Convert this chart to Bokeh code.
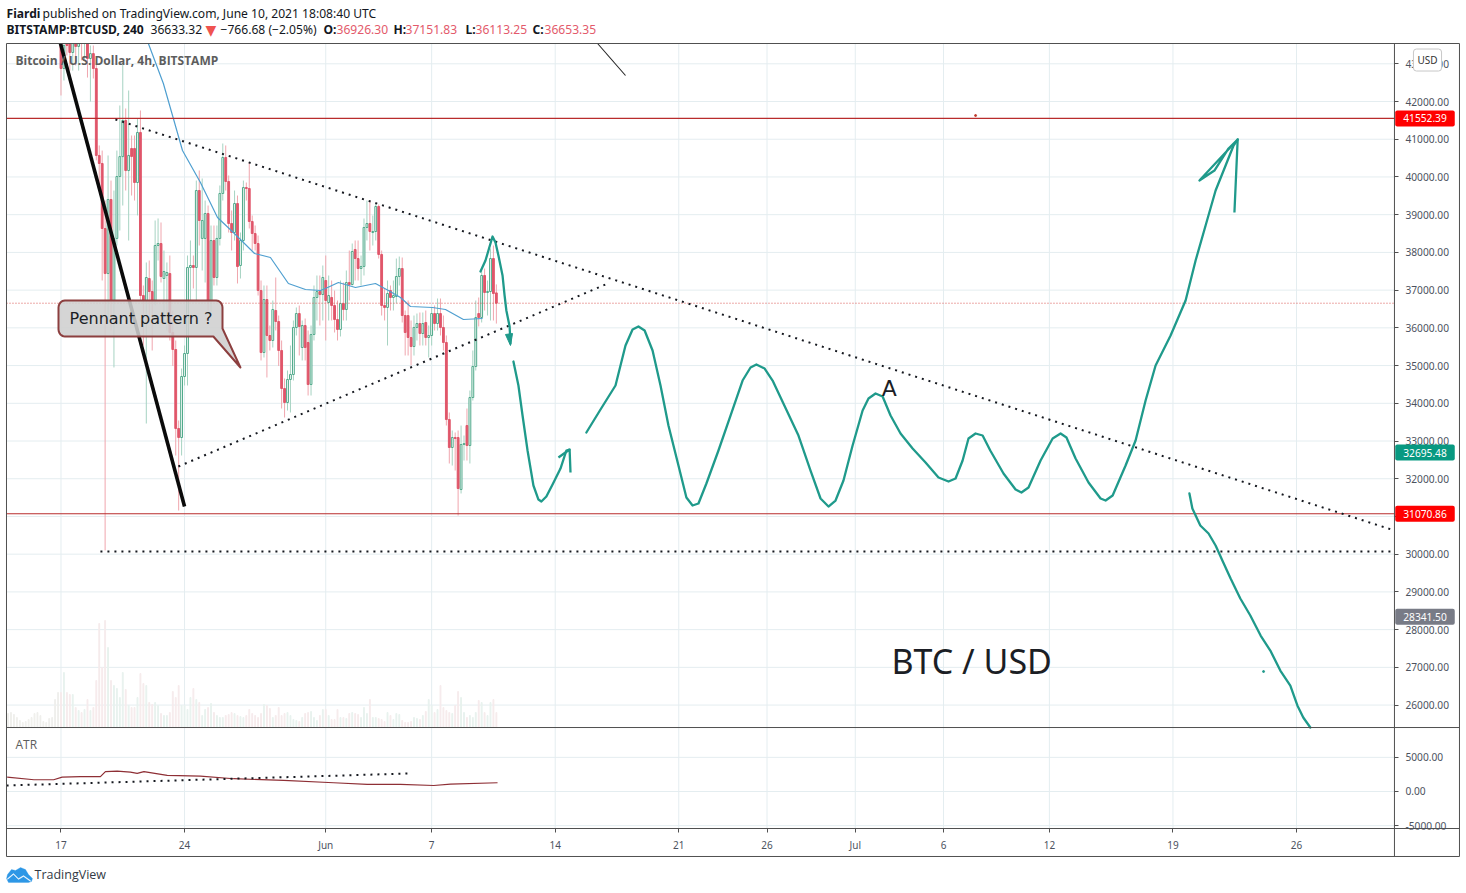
from bokeh.plotting import figure
from bokeh.models import Range1d, FixedTicker, Label, BoxAnnotation, PolyAnnotation, NumeralTickFormatter, LinearAxis
from bokeh.core.properties import value
from bokeh.embed import file_html
from bokeh.resources import INLINE
import numpy as np

bar_open = [43618,42875,43670,43540,43300,43670,43460,43720,43565,43618,43140,43270,42875,40570,40357,38634,37440,39403,36725,38370,40012,40540,41497,40170,40755,40755,39853,41180,36857,36725,37308,36963,36725,38183,38236,37308,37388,37440,35877,35426,33332,33093,34710,35320,37600,37653,37600,39641,38370,38370,39032,36725,38315,37335,38370,39562,40516,39880,38766,38527,39296,37653,38315,39720,39694,38820,38501,38236,36990,35346,36751,35797,35665,36460,36168,35400,34392,34021,34631,34763,36010,36380,35479,36062,35612,34498,35824,36805,36963,36884,37255,36672,36805,36592,36221,35957,36645,36486,37202,37149,38077,37838,37573,37627,38660,38766,38527,38554,39217,37945,36592,36540,36990,36805,36831,37361,37573,36327,36327,35744,35505,36010,36115,35850,36142,35744,35797,36380,36115,36380,36010,35612,33570,32828,33093,33093,31714,32907,33411,32881,34153,34975,36380,36274,37388,36937,36963,37838,36926.30]
bar_high = [43750,43620,43880,43750,43750,43880,43880,43880,43880,43880,43485,43485,43090,40835,40700,39375,40570,39905,39640,40700,41895,43010,41815,42292,41100,41100,41550,41762,37123,37733,37785,37255,38846,38900,38793,38050,37733,37918,36460,35665,33544,34922,35532,37918,38316,37918,39905,40172,39960,39375,39243,38713,38713,38713,39774,40887,40835,40040,39111,39640,39508,38528,39905,39853,40383,38978,38713,38448,37255,37123,37123,36062,36725,37335,36327,35665,34657,34869,35532,36195,36540,36592,36195,36248,35930,36062,37123,37388,37388,37653,37918,37388,37255,36990,36725,37255,37202,37520,38050,38236,38316,38316,37918,38899,39376,39376,38978,39296,39270,38050,37043,37255,37123,37255,37838,37891,37865,36460,36725,36195,36327,36380,36407,36407,36460,36062,36540,36592,36778,36778,36327,35797,33756,33279,33226,33279,33411,33146,33862,34339,35400,36725,36805,37520,37573,37255,38104,38183,37151.83]
bar_low = [42160,42557,43220,42820,42820,42955,42820,43090,43090,42635,42000,42610,40440,39640,37255,30100,36195,35930,34950,38183,38580,39243,39640,38315,39508,39375,38980,36725,35532,33464,36195,35400,36593,37785,37202,36195,35930,35665,34990,32616,31158,32616,34472,34472,36725,37043,36725,38183,37520,37202,36460,36407,37123,37123,38183,39375,39640,38527,38050,38315,37176,37308,38050,39375,38634,38050,38050,36857,35135,35214,34684,35400,35479,35930,34990,33862,33623,33809,33756,34604,35797,35267,35135,35135,34206,34206,35665,36195,36062,36195,35665,36195,36195,35877,35665,35771,36195,36195,36725,37123,37255,37255,37123,37388,38316,38050,38183,38316,37838,36327,36195,35532,36460,36460,36645,37123,36142,35267,35267,35002,35267,35665,35532,35532,35532,35214,35532,35930,35930,35797,35400,33411,32404,32350,32218,31025,31609,32483,32483,32404,34073,34869,36036,36142,36460,36327,36195,36195,36113.25]
bar_close = [42875,43485,43485,43300,43540,43460,43670,43565,43720,43140,43270,42875,40570,40357,38634,37440,39403,36725,38370,40012,40540,41497,40170,40570,40543,39853,41180,36857,36725,37335,36963,36725,38183,38236,37361,37494,37467,35877,35426,33332,33093,34710,35320,37600,37653,37600,39641,38846,38846,39032,36725,38315,37335,38370,39562,40516,39880,38766,38527,39296,37626,38315,39720,39694,38820,38501,38236,36990,35346,36751,35797,35665,36486,36168,35400,34392,34021,34631,34763,36010,36380,36036,36062,35479,34498,35824,36805,36963,36884,37335,36725,36857,36592,36221,35957,36645,36486,37202,37149,38024,37838,37573,37627,38660,38766,38554,38554,39217,37945,36592,36540,36911,36805,36858,37361,37573,36327,35877,35744,35505,36010,36115,35850,36115,35744,35797,36380,36115,36380,36010,35612,33570,32828,33093,33066,31741,32907,32933,32881,34153,34975,36274,36274,37388,36937,36963,37838,36910,36653.35]
volume = [560,600,520,400,280,200,240,320,400,560,600,480,240,200,360,400,1120,1400,1400,2200,1400,1320,1320,800,680,600,720,1120,680,800,1880,4160,2400,4280,3200,1880,1680,1560,1200,2200,1520,880,800,800,1200,2160,1760,1680,1000,920,1000,880,560,480,480,600,1440,1200,1680,880,880,720,1200,1560,1120,1000,480,720,800,960,600,480,400,400,480,520,600,560,480,440,400,480,720,560,480,400,560,920,880,760,400,480,800,480,560,600,480,320,280,240,400,560,600,640,400,280,480,720,720,480,320,320,720,400,400,360,560,600,560,520,400,800,560,1120,400,400,360,320,240,600,480,320,560,520,280,200,200,240,400,360,320,480,640,1120,880,600,720,1680,800,680,600,560,880,1440,1200,600,400,480,400,600,1080,1000,600,480,1000,1120,600]
atr_bars = [-18.3,-9.2,-2.5,0.4,6.6,13.4,15.1,19.1,23.6,25.9,28.2,36.1,47.4,58.7,75.7,92.7,104.1,115.4,126.7,132.4,148.4]
atr_values = [2100,1720,1720,2100,2180,2180,2900,2990,2840,2650,2900,2350,2250,1870,1620,1280,1030,1030,880,1070,1280]
ma_bars = [29.7,34.8,38.2,41.3,47.4,53.2,58.6,65.8,71.2,77.3,83.1,88.2,89.9,94.3,100.1,106.9,111.3,115.4,118.8,126.3,130.7,136.8,143.3]
ma_values = [43538,42478,41550,40702,39853,38925,38528,37971,37865,37175,37017,36990,37043,37202,37070,37176,36990,36805,36566,36540,36486,36221,36248]
time_ticks = [0,42,90,126,168,210,240,270,300,336,378,420]
time_labels = ["17","24","Jun","7","14","21","26","Jul","6","12","19","26"]
price_ticks = [26000,27000,28000,29000,30000,31000,32000,33000,34000,35000,36000,37000,38000,39000,40000,41000,42000,43000]
atr_ticks = [-5000,0,5000]
upper_line = ([18.5,453.3],[41523,30628])
lower_line = ([39.9,185.1],[32324,37149])
floor_line = ([13.4,453.3],[30071,30071])
black_thick = ([-0.17,42],[43538,31264])
black_thin = ([182.4,191.9],[43538,42690])
atr_line = ([-18.5,119.4],[880,2650])
sketch_a = ([142.6,144.3,145.3,146.7,147.7,148.7,150.1,150.8,151.4,152.5,152.8],[37494,37785,38050,38422,38262,37918,37388,36857,36460,36036,35585])
sketch_a_head = ([151.1,152.8,153.5],[35824,35532,35850])
sketch_b = ([153.8,155.5,156.9,158.6,160.6,162.3,163.3,165.0,167.1,169.8,171.8,172.9],[35108,34472,33676,32749,31821,31449,31396,31529,31847,32271,32749,32775])
sketch_b_head = ([169.1,172.9,173.2],[32563,32775,32165])
sketch_c = ([178.6,183.4,188.5,191.9,194.3,196.3,198.4,201.1,203.8,206.5,209.9,212.6,214.7,216.7,219.4,223.5,227.6,231.7,234.4,236.4,239.2,241.9,245.9,250.7,254.8,258.2,260.9,263.3,266.0,269.1,272.5,274.5,276.9,279.3,282.0,285.4,289.5,293.9,298.3,301.7,304.1,306.5,308.5,310.9,313.3,315.9,320.4,324.5,326.5,328.9,333.0,337.1,339.8,341.8,344.9,349.3,353.4,355.1,357.5,361.9,365.3,368.7,372.1,377.2,382.3,385.7,389.1,392.5,395.9,398.6,400.0],
            [33226,33835,34472,35532,35956,36036,35930,35400,34472,33411,32350,31503,31290,31343,31874,32749,33676,34604,34949,35028,34922,34604,33941,33146,32218,31476,31264,31423,31953,32881,33809,34127,34260,34180,33676,33199,32802,32431,32033,31927,32006,32483,33067,33199,33146,32749,32139,31715,31635,31768,32483,33067,33199,33093,32536,31900,31476,31423,31555,32350,33014,34074,35002,35797,36725,37785,38713,39641,40304,40834,40993])
sketch_c_head = ([398.9,400.0,387.0,392.1,396.9,400.0],[39058,40993,39906,40171,40755,40993])
sketch_d = ([383.6,384.6,387.3,390.1,392.5,394.8,397.6,400.9,404.3,407.8,411.1,414.5,417.9,420.3,422.3,424.7],[31609,31211,30761,30548,30230,29833,29355,28825,28374,27844,27446,26916,26518,25989,25670,25405])
levels_red = [41552.39, 31070.86]
last_close = 36653.35
price_tags = [(41552.39,"41552.39","#ff0000"),(32695.48,"32695.48","#089981"),(31070.86,"31070.86","#ff0000"),(28341.50,"28341.50","#787b86")]

GRID = "#e4edf0"
FRAME = "#505050"
TEAL = "#1f9a8b"
RED = "#e0566a"
GREEN = "#4fa98a"
AXF = "Noto Sans"

W, H = 1460, 885
X_L, X_R, X_O = -18.53, 453.3, 475.4      # chart left, price-scale left, price-scale right (bars)
Y_TOP, Y_MID, Y_LOW, Y_BOT = 43538, 25405, 22728, 21986   # pane borders on the price scale

p = figure(width=W, height=H, x_range=Range1d(-20.566, 475.75), y_range=Range1d(21217, 44678),
           output_backend="svg", toolbar_location=None, tools="", x_axis_location=None, y_axis_location=None,
           min_border_left=0, min_border_right=0, min_border_top=0, min_border_bottom=0)
p.outline_line_color = None
p.grid.visible = False
p.extra_y_ranges = {"vol": Range1d(-6320, 29080), "atr": Range1d(-13762, 115802)}

# grid
p.segment(x0=time_ticks, x1=time_ticks, y0=Y_LOW, y1=Y_TOP, color=GRID, line_width=1)
p.segment(x0=X_L, x1=X_R, y0=price_ticks, y1=price_ticks, color=GRID, line_width=1)
p.segment(x0=X_L, x1=X_R, y0=atr_ticks, y1=atr_ticks, color=GRID, line_width=1, y_range_name="atr")

# axes
def style_axis(a, size):
    a.axis_line_color = None
    a.major_tick_in = 0
    a.major_tick_out = 4
    a.minor_tick_line_color = None
    a.major_tick_line_color = FRAME
    a.major_label_text_font = AXF
    a.major_label_text_font_size = size
    a.major_label_text_color = "#4c525e"

ya = LinearAxis(fixed_location=X_R, ticker=FixedTicker(ticks=price_ticks), formatter=NumeralTickFormatter(format="0.00"))
style_axis(ya, "10.2px"); ya.major_label_standoff = 7
p.add_layout(ya, "right")
yb = LinearAxis(fixed_location=X_R, y_range_name="atr", ticker=FixedTicker(ticks=atr_ticks), formatter=NumeralTickFormatter(format="0.00"))
style_axis(yb, "10.2px"); yb.major_label_standoff = 7
p.add_layout(yb, "right")
xa = LinearAxis(fixed_location=Y_LOW, ticker=FixedTicker(ticks=time_ticks),
                major_label_overrides=dict(zip(time_ticks, time_labels)))
style_axis(xa, "10px"); xa.major_label_standoff = 5
p.add_layout(xa, "below")

# volume
vol_x = list(range(-18, -18 + len(volume)))
n_before = 18
vol_col = []
for i, b in enumerate(vol_x):
    if b < 0 or i - n_before >= len(bar_close):
        vol_col.append("#efefec")
    else:
        j = i - n_before
        vol_col.append("#e8f2ee" if bar_close[j] >= bar_open[j] else "#f6ebec")
p.vbar(x=vol_x, top=volume, bottom=0, width=0.3, color=vol_col, y_range_name="vol")

# candles
bx = list(range(len(bar_close)))
up = [c >= o for o, c in zip(bar_open, bar_close)]
wc = ["#a6d3c2" if u else "#f0a6ae" for u in up]
p.segment(x0=bx, x1=bx, y0=bar_low, y1=bar_high, color=wc, line_width=1)
p.vbar(x=[b for b, u in zip(bx, up) if u], width=0.62,
       top=[c for c, u in zip(bar_close, up) if u], bottom=[o for o, u in zip(bar_open, up) if u],
       fill_color="#fbfdfc", line_color=GREEN, line_width=1)
p.vbar(x=[b for b, u in zip(bx, up) if not u], width=0.62,
       top=[o for o, u in zip(bar_open, up) if not u], bottom=[c for c, u in zip(bar_close, up) if not u],
       fill_color=RED, line_color=RED, line_width=1)
p.line(ma_bars, ma_values, color="#4f9fd0", line_width=1.2)

# ATR pane
p.line(atr_bars, atr_values, color="#8e2f35", line_width=1.2, y_range_name="atr")
p.line(atr_line[0], atr_line[1], color="#15181f", line_width=2, line_dash="2 5", y_range_name="atr")

# levels and drawings
p.line([X_L, X_R], [last_close, last_close], color="#d9534f", line_dash="1 2", line_width=1)
for lv in levels_red:
    p.line([X_L, X_R], [lv, lv], color="#b92c2c", line_width=1.1)
for ln in (upper_line, lower_line, floor_line):
    p.line(ln[0], ln[1], color="#15181f", line_width=2, line_dash="2 5")
p.line(black_thick[0], black_thick[1], color="#0a0a0a", line_width=3.6)
p.line(black_thin[0], black_thin[1], color="#222222", line_width=1.1)
for s in (sketch_a, sketch_b, sketch_c, sketch_d):
    p.line(s[0], s[1], color=TEAL, line_width=2.3, line_join="round", line_cap="round")
p.patch(sketch_a_head[0], sketch_a_head[1], color=TEAL)
p.line(sketch_b_head[0], sketch_b_head[1], color=TEAL, line_width=2.3)
p.line(sketch_c_head[0], sketch_c_head[1], color=TEAL, line_width=2.3, line_join="round")
p.scatter([408.8], [26890], size=2, color=TEAL)
p.scatter([310.9], [41629], size=2, color="#c0392b")

# callout
L, R, T, B = -0.85, 54.9, 36725, 35771
rx, ry = 2.2, 190
def arc(cx, cy, a0, a1):
    t = np.radians(np.linspace(a0, a1, 7))
    return list(cx + rx * np.cos(t)), list(cy + ry * np.sin(t))
cx, cy = [], []
for ax_, ay_ in (arc(L + rx, T - ry, 180, 90), arc(R - rx, T - ry, 90, 0)):
    cx += ax_; cy += ay_
cx += [R, 61.0, 51.8]
cy += [35983, 34949, B]
a, b = arc(L + rx, B + ry, 270, 180)
cx += a; cy += b
p.patch(cx, cy, fill_color="#cfcfcf", fill_alpha=0.88, line_color="#8c3f3f", line_width=2, line_join="round")
p.text([27.2], [36248], text=["Pennant pattern ?"], text_font=value("DejaVu Sans"), text_font_size="16px",
       text_color="#1b1e25", text_align="center", text_baseline="middle")
p.text([281.6], [34392], text=["A"], text_font=value("DejaVu Sans"), text_font_size="22px",
       text_color="#1b1e25", text_align="center", text_baseline="middle")
p.text([282.3], [27168], text=["BTC / USD"], text_font=value("Noto Sans"), text_font_size="34px",
       text_color="#1b1e25", text_align="left", text_baseline="middle")

# mask above the chart, then frame lines
p.quad(left=-20.566, right=475.75, top=44678, bottom=Y_TOP, color="white")
p.segment(x0=[X_L, X_L, X_L, X_L, X_L, X_R, X_O],
          x1=[X_O, X_O, X_O, X_O, X_L, X_R, X_O],
          y0=[Y_TOP, Y_MID, Y_LOW, Y_BOT, Y_TOP, Y_TOP, Y_TOP],
          y1=[Y_TOP, Y_MID, Y_LOW, Y_BOT, Y_BOT, Y_BOT, Y_BOT], color=FRAME, line_width=1)

# texts on the chart
p.add_layout(Label(x=15, y=43087, x_units="screen", text="Bitcoin / U.S. Dollar, 4h, BITSTAMP",
                   text_font="Open Sans", text_font_style="bold", text_font_size="12px", text_color="#5d5d5d",
                   text_baseline="middle"))
p.add_layout(Label(x=15, y=H - 744, x_units="screen", y_units="screen", text="ATR", text_font="Open Sans", text_font_size="12px",
                   text_color="#5d5d5d", text_baseline="middle"))
for val, txt, col in price_tags:
    p.add_layout(Label(x=1424.5, y=val, x_units="screen", text=txt, text_color="white", text_font=AXF,
                       text_font_size="10.2px", text_align="center", text_baseline="middle",
                       background_fill_color=col, padding=(8, 4), border_radius=2))
p.add_layout(Label(x=1427, y=43100, x_units="screen", text="USD", text_color="#333333", text_font=AXF,
                   text_font_size="10px", text_align="center", text_baseline="middle",
                   background_fill_color="white", border_line_color="#c8c8c8", padding=(4, 4), border_radius=3))

# the -5000 label is cut by the pane border in the reference
p.add_layout(BoxAnnotation(left=454, right=475, top=Y_LOW - 30, bottom=Y_BOT + 30, fill_color="white", fill_alpha=1, line_color=None))

# header
HF = "Noto Sans"
def head(x, yy, txt, color="#131722", bold=False, font=HF, size="12.1px"):
    p.add_layout(Label(x=x, y=H - yy, x_units="screen", y_units="screen", text=txt, text_font=font, text_font_size=size,
                       text_color=color, text_font_style="bold" if bold else "normal", text_baseline="middle"))
Y1, Y2 = 13, 29
VAL = "#e35a6b"
head(6, Y1, "Fiardi", bold=True)
head(42, Y1, "published on TradingView.com, June 10, 2021 18:08:40 UTC")
head(6, Y2, "BITSTAMP:BTCUSD, 240", bold=True)
head(150, Y2, "36633.32")
head(205, Y2, "\u25bc", color="#ef5350", font="DejaVu Sans", size="14px")
head(220, Y2, "\u2212766.68 (\u22122.05%)")
head(323, Y2, "O:", bold=True); head(336, Y2, "36926.30", color=VAL)
head(393, Y2, "H:", bold=True); head(405, Y2, "37151.83", color=VAL)
head(465, Y2, "L:", bold=True); head(475, Y2, "36113.25", color=VAL)
head(532, Y2, "C:", bold=True); head(544, Y2, "36653.35", color=VAL)

# footer mark
p.add_layout(Label(x=34, y=H - 874, x_units="screen", y_units="screen", text="TradingView", text_font="Open Sans",
                   text_font_size="12.5px", text_color="#333a45", text_baseline="middle"))
logo_x = [6, 7, 11, 15, 20, 25, 28, 32, 31, 28, 8]
logo_y = [878, 874, 869, 870, 867, 869, 874, 878, 881, 882, 882]
p.add_layout(PolyAnnotation(xs=logo_x, ys=[H - v for v in logo_y], xs_units="screen", ys_units="screen",
                            fill_color="#2d97e6", fill_alpha=1, line_color="#2d97e6"))
wave_x = [7, 13, 18, 23, 30, 30, 23, 18, 13, 7]
wave_y = [878, 873, 878, 875, 880, 881, 876, 879, 874, 879]
p.add_layout(PolyAnnotation(xs=wave_x, ys=[H - v for v in wave_y], xs_units="screen", ys_units="screen",
                            fill_color="white", fill_alpha=1, line_color="white"))

open("out.html", "w").write(file_html(p, INLINE))
